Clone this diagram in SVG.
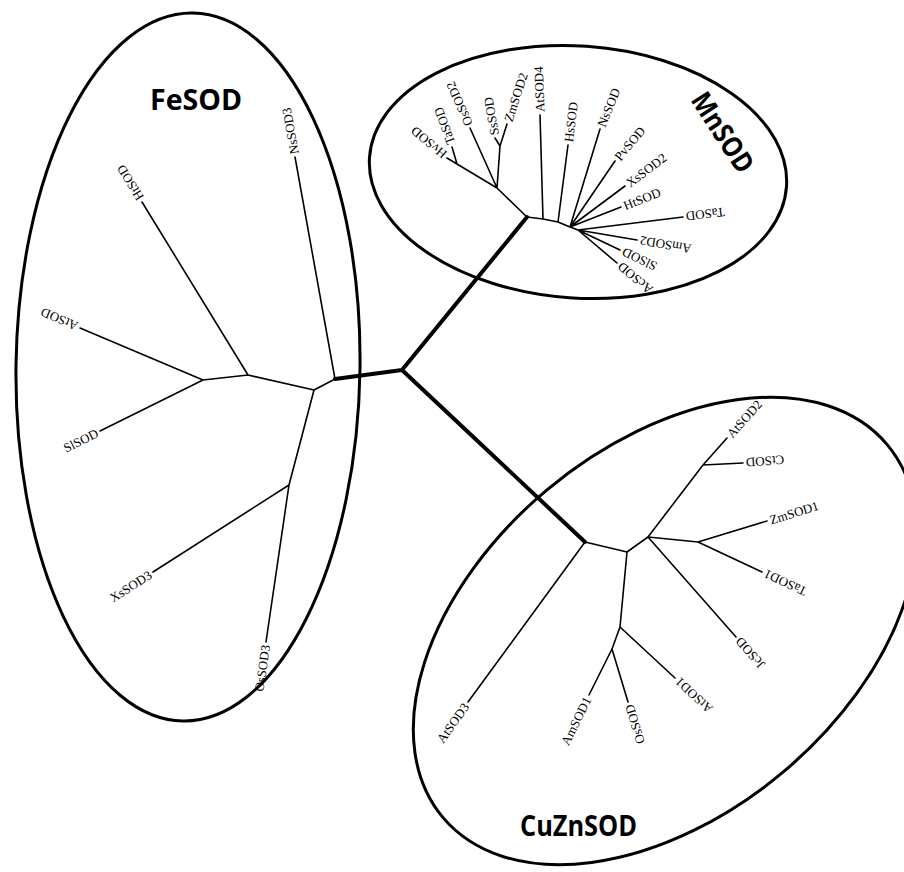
<svg xmlns="http://www.w3.org/2000/svg" width="904" height="872" viewBox="0 0 904 872">
<style>
.bg{fill:#fff}
.clade{fill:none;stroke:#000;stroke-width:3}
.br{fill:none;stroke:#000;stroke-width:1.6;stroke-linecap:round;stroke-linejoin:round}
.thick{fill:none;stroke:#000;stroke-width:4;stroke-linecap:round}
.lb{font-family:"Liberation Serif","Times New Roman",serif;font-size:13px;fill:#000}
.title{font-family:"Open Sans","Liberation Sans",Arial,sans-serif;font-weight:700;font-size:28px;fill:#000}
</style>
<rect class="bg" width="904" height="872"/>

<g id="clade-FeSOD">
<ellipse class="clade" cx="188" cy="367" rx="172" ry="354" transform="rotate(0.8 188 367)"/>
<text class="title" x="150" y="110" textLength="92" lengthAdjust="spacingAndGlyphs">FeSOD</text>
</g>
<g id="clade-MnSOD">
<ellipse class="clade" cx="578" cy="172" rx="209" ry="126" transform="rotate(4 578 172)"/>
<text class="title" transform="translate(690 100) rotate(57)" textLength="90" lengthAdjust="spacingAndGlyphs">MnSOD</text>
</g>
<g id="clade-CuZnSOD">
<ellipse class="clade" cx="665" cy="631" rx="290" ry="184" transform="rotate(-40 665 631)"/>
<text class="title" x="520" y="836" textLength="117" lengthAdjust="spacingAndGlyphs">CuZnSOD</text>
</g>

<g id="connectors">
<path class="thick" d="M402 370L335 379M402 370L527 217M402 370L585 542"/>
<!-- FeSOD -->
<path class="br" d="M335 379L295 157M335 379L314 390L248 375L142 202M248 375L203 380L80 328M203 380L100 431M314 390L289 485L153 572M289 485L266 642"/>
<!-- MnSOD -->
<path class="br" d="M527 217L497 188L457 164L447 158M457 164L452 147M497 188L470 128M497 188L500 146L495 138M500 146L507 124M527 217L543 219L540 115M543 219L558 222L568 145M558 222L570 227L600 129M570 227L615 161M570 227L625 186M570 227L621 207M570 227L578 230L683 217M578 230L637 240M578 230L620 250M578 230L617 263"/>
<!-- CuZnSOD -->
<path class="br" d="M585 542L468 702M585 542L627 552L620 627M627 552L648 537L703 465L727 438M703 465L743 463M648 537L698 542L767 521M698 542L762 572M648 537L736 637M620 627L675 678M620 627L612 649L589 695M612 649L628 702"/>
</g>

<!-- FeSOD leaves -->
<g id="leaf-fe-NsSOD3"><text class="lb" transform="translate(295 157) rotate(-100.3)" x="3" dy="0.35em">NsSOD3</text></g>
<g id="leaf-fe-HtSOD"><text class="lb" transform="translate(142 202) rotate(-121.5)" x="3" dy="0.35em">HtSOD</text></g>
<g id="leaf-fe-AtSOD"><text class="lb" transform="translate(80 328) rotate(-157)" x="3" dy="0.35em">AtSOD</text></g>
<g id="leaf-fe-SlSOD"><text class="lb" transform="translate(100 431) rotate(-26.3)" x="-3" dy="0.35em" text-anchor="end">SlSOD</text></g>
<g id="leaf-fe-XsSOD3"><text class="lb" transform="translate(153 572) rotate(-32.6)" x="-3" dy="0.35em" text-anchor="end">XsSOD3</text></g>
<g id="leaf-fe-OsSOD3"><text class="lb" transform="translate(266 642) rotate(-81.7)" x="-3" dy="0.35em" text-anchor="end">OsSOD3</text></g>

<!-- MnSOD leaves -->
<g id="leaf-mn-HvSOD"><text class="lb" transform="translate(447 158) rotate(-140)" x="3" dy="0.35em">HvSOD</text></g>
<g id="leaf-mn-TaSOD-a"><text class="lb" transform="translate(452 147) rotate(-110)" x="3" dy="0.35em">TaSOD</text></g>
<g id="leaf-mn-OsSOD2"><text class="lb" transform="translate(470 128) rotate(-114)" x="3" dy="0.35em">OsSOD2</text></g>
<g id="leaf-mn-SsSOD"><text class="lb" transform="translate(495 138) rotate(-100)" x="3" dy="0.35em">SsSOD</text></g>
<g id="leaf-mn-ZmSOD2"><text class="lb" transform="translate(507 124) rotate(-72)" x="3" dy="0.35em">ZmSOD2</text></g>
<g id="leaf-mn-AtSOD4"><text class="lb" transform="translate(540 115) rotate(-92)" x="3" dy="0.35em">AtSOD4</text></g>
<g id="leaf-mn-HsSOD"><text class="lb" transform="translate(568 145) rotate(-83)" x="3" dy="0.35em">HsSOD</text></g>
<g id="leaf-mn-NsSOD"><text class="lb" transform="translate(600 129) rotate(-68)" x="3" dy="0.35em">NsSOD</text></g>
<g id="leaf-mn-PvSOD"><text class="lb" transform="translate(615 161) rotate(-50)" x="3" dy="0.35em">PvSOD</text></g>
<g id="leaf-mn-XsSOD2"><text class="lb" transform="translate(625 186) rotate(-37)" x="3" dy="0.35em">XsSOD2</text></g>
<g id="leaf-mn-HtSOD"><text class="lb" transform="translate(621 207) rotate(-21.4)" x="3" dy="0.35em">HtSOD</text></g>
<g id="leaf-mn-TaSOD-b"><text class="lb" transform="translate(683 217) rotate(173)" x="-3" dy="0.35em" text-anchor="end">TaSOD</text></g>
<g id="leaf-mn-AmSOD2"><text class="lb" transform="translate(637 240) rotate(189.6)" x="-3" dy="0.35em" text-anchor="end">AmSOD2</text></g>
<g id="leaf-mn-SlSOD"><text class="lb" transform="translate(620 250) rotate(205.5)" x="-3" dy="0.35em" text-anchor="end">SlSOD</text></g>
<g id="leaf-mn-AcSOD"><text class="lb" transform="translate(617 263) rotate(220)" x="-3" dy="0.35em" text-anchor="end">AcSOD</text></g>

<!-- CuZnSOD leaves -->
<g id="leaf-cu-AtSOD3"><text class="lb" transform="translate(468 702) rotate(-54)" x="-3" dy="0.35em" text-anchor="end">AtSOD3</text></g>
<g id="leaf-cu-AtSOD2"><text class="lb" transform="translate(727 438) rotate(-48)" x="3" dy="0.35em">AtSOD2</text></g>
<g id="leaf-cu-CtSOD"><text class="lb" transform="translate(743 463) rotate(175.5)" x="-3" dy="0.35em" text-anchor="end">CtSOD</text></g>
<g id="leaf-cu-ZmSOD1"><text class="lb" transform="translate(767 521) rotate(-17)" x="3" dy="0.35em">ZmSOD1</text></g>
<g id="leaf-cu-TaSOD1"><text class="lb" transform="translate(762 572) rotate(205)" x="-3" dy="0.35em" text-anchor="end">TaSOD1</text></g>
<g id="leaf-cu-JcSOD"><text class="lb" transform="translate(736 637) rotate(228.7)" x="-3" dy="0.35em" text-anchor="end">JcSOD</text></g>
<g id="leaf-cu-AtSOD1"><text class="lb" transform="translate(675 678) rotate(222.8)" x="-3" dy="0.35em" text-anchor="end">AtSOD1</text></g>
<g id="leaf-cu-OsSOD"><text class="lb" transform="translate(628 702) rotate(253)" x="-3" dy="0.35em" text-anchor="end">OsSOD</text></g>
<g id="leaf-cu-AmSOD1"><text class="lb" transform="translate(589 695) rotate(-63.4)" x="-3" dy="0.35em" text-anchor="end">AmSOD1</text></g>
</svg>
